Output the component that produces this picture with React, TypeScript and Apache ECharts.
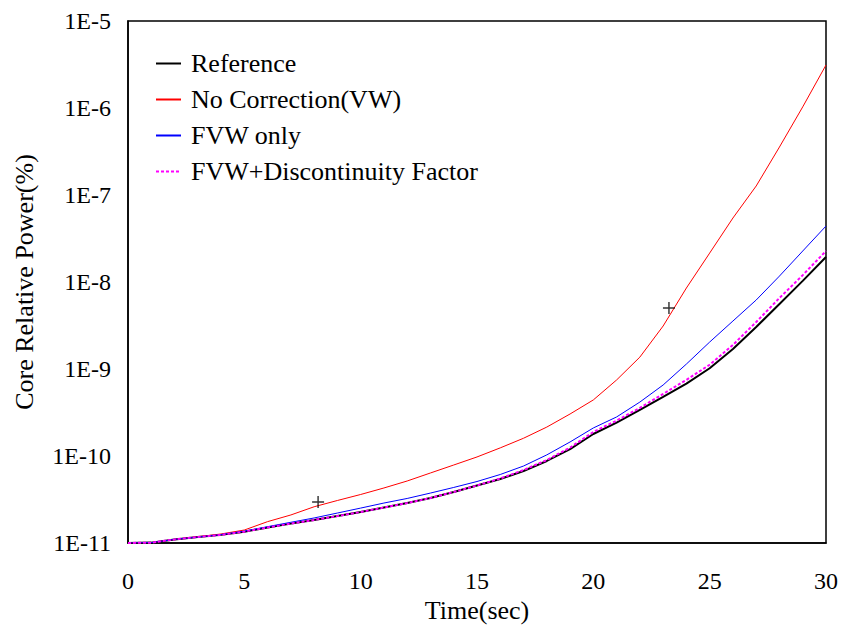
import React, { useEffect, useRef } from "react";
import * as echarts from "echarts";

const times = [0, 1, 2, 3, 4, 5, 6, 7, 8, 9, 10, 11, 12, 13, 14, 15, 16, 17, 18, 19, 20, 21, 22, 23, 24, 25, 26, 27, 28, 29, 30];

const reference = [
  1.0e-11, 1.01e-11, 1.1e-11, 1.17e-11, 1.24e-11, 1.35e-11, 1.51e-11, 1.67e-11, 1.84e-11, 2.04e-11,
  2.27e-11, 2.56e-11, 2.88e-11, 3.29e-11, 3.86e-11, 4.58e-11, 5.44e-11, 6.73e-11, 8.77e-11, 1.2e-10,
  1.79e-10, 2.42e-10, 3.4e-10, 4.77e-10, 6.8e-10, 1.02e-9, 1.7e-9, 3.04e-9, 5.59e-9, 1.03e-8, 1.94e-8,
];

const noCorrection = [
  1.0e-11, 1.01e-11, 1.1e-11, 1.18e-11, 1.27e-11, 1.41e-11, 1.76e-11, 2.1e-11, 2.61e-11, 3.08e-11,
  3.61e-11, 4.29e-11, 5.16e-11, 6.38e-11, 7.88e-11, 9.75e-11, 1.24e-10, 1.6e-10, 2.15e-10, 3.04e-10,
  4.41e-10, 7.48e-10, 1.37e-9, 3.12e-9, 8.53e-9, 2.15e-8, 5.44e-8, 1.27e-7, 3.56e-7, 1.03e-6, 3.12e-6,
];

const fvwOnly = [
  1.0e-11, 1.01e-11, 1.1e-11, 1.17e-11, 1.25e-11, 1.37e-11, 1.54e-11, 1.73e-11, 1.94e-11, 2.21e-11,
  2.52e-11, 2.88e-11, 3.25e-11, 3.75e-11, 4.35e-11, 5.09e-11, 6.13e-11, 7.67e-11, 1.03e-10, 1.45e-10,
  2.1e-10, 2.81e-10, 4.17e-10, 6.55e-10, 1.14e-9, 2.04e-9, 3.56e-9, 6.21e-9, 1.17e-8, 2.27e-8, 4.4e-8,
];

const fvwDf = [
  1.0e-11, 1.01e-11, 1.1e-11, 1.17e-11, 1.24e-11, 1.35e-11, 1.51e-11, 1.67e-11, 1.84e-11, 2.04e-11,
  2.27e-11, 2.56e-11, 2.88e-11, 3.29e-11, 3.86e-11, 4.58e-11, 5.51e-11, 6.9e-11, 8.99e-11, 1.25e-10,
  1.89e-10, 2.55e-10, 3.58e-10, 5.17e-10, 7.5e-10, 1.12e-9, 1.89e-9, 3.47e-9, 6.55e-9, 1.2e-8, 2.27e-8,
];

const markerTimes = [8.17, 23.25];
const markerValues = [2.96e-11, 5.02e-9];

const seriesNames = ["Reference", "No Correction(VW)", "FVW only", "FVW+Discontinuity Factor"];
const xTicks = { min: 0, max: 30, interval: 5 };

const FONT = "'Liberation Serif', 'Times New Roman', serif";

function pairs(vals: number[]) {
  return times.map((t, i) => [t, vals[i]]);
}

export default function App() {
  const ref = useRef<HTMLDivElement>(null);
  useEffect(() => {
    if (!ref.current) return;
    const chart = echarts.init(ref.current, undefined, { renderer: "svg" });
    chart.setOption({
      animation: false,
      backgroundColor: "#fff",
      textStyle: { fontFamily: FONT, color: "#000" },
      grid: {
        left: 128,
        top: 21,
        right: 20,
        bottom: 92,
        show: true,
        borderColor: "#000",
        borderWidth: 1.5,
        backgroundColor: "transparent",
      },
      legend: {
        orient: "vertical",
        left: 150,
        top: 45,
        itemWidth: 25,
        itemHeight: 14,
        itemGap: 9,
        data: seriesNames,
        itemStyle: { opacity: 0 },
        textStyle: { fontFamily: FONT, fontSize: 26, color: "#000", lineHeight: 27, padding: [0, 0, 0, 5] },
      },
      xAxis: {
        type: "value",
        min: xTicks.min,
        max: xTicks.max,
        interval: xTicks.interval,
        name: "Time(sec)",
        nameLocation: "middle",
        nameGap: 52,
        nameTextStyle: { fontFamily: FONT, fontSize: 26, color: "#000" },
        axisLine: { show: true, lineStyle: { color: "#000", width: 1.5 } },
        axisTick: { show: false },
        splitLine: { show: false },
        axisLabel: { fontFamily: FONT, fontSize: 24, color: "#000", margin: 26 },
      },
      yAxis: {
        type: "log",
        logBase: 10,
        min: 1e-11,
        max: 1e-5,
        name: "Core Relative Power(%)",
        nameLocation: "middle",
        nameGap: 91,
        nameTextStyle: { fontFamily: FONT, fontSize: 26, color: "#000" },
        axisLine: { show: true, lineStyle: { color: "#000", width: 1.5 } },
        axisTick: { show: false },
        splitLine: { show: false },
        minorTick: { show: false },
        axisLabel: {
          fontFamily: FONT,
          fontSize: 24,
          color: "#000",
          margin: 17,
          formatter: (v: number) => "1E" + Math.round(Math.log10(v)),
        },
      },
      series: [
        {
          name: seriesNames[0],
          type: "line",
          data: pairs(reference),
          symbol: "none",
          lineStyle: { color: "#000", width: 2 },
          itemStyle: { color: "#000" },
        },
        {
          name: seriesNames[1],
          type: "line",
          data: pairs(noCorrection),
          symbol: "none",
          lineStyle: { color: "#ff0000", width: 1 },
          itemStyle: { color: "#ff0000" },
        },
        {
          name: seriesNames[2],
          type: "line",
          data: pairs(fvwOnly),
          symbol: "none",
          lineStyle: { color: "#0000ff", width: 1 },
          itemStyle: { color: "#0000ff" },
        },
        {
          name: seriesNames[3],
          type: "line",
          data: pairs(fvwDf),
          symbol: "none",
          lineStyle: { color: "#ff00ff", width: 2, type: [3, 2] },
          itemStyle: { color: "#ff00ff" },
        },
        {
          name: "markers",
          type: "scatter",
          data: markerTimes.map((t, i) => [t, markerValues[i]]),
          symbol: "path://M0,4.4H10V5.6H0Z M4.4,0H5.6V10H4.4Z",
          symbolSize: 12,
          itemStyle: { color: "#000" },
          z: 5,
        },
      ],
    });
    return () => chart.dispose();
  }, []);
  return (
    <div
      ref={ref}
      style={{ position: "absolute", left: 0, top: 0, width: 846, height: 635 }}
    />
  );
}
